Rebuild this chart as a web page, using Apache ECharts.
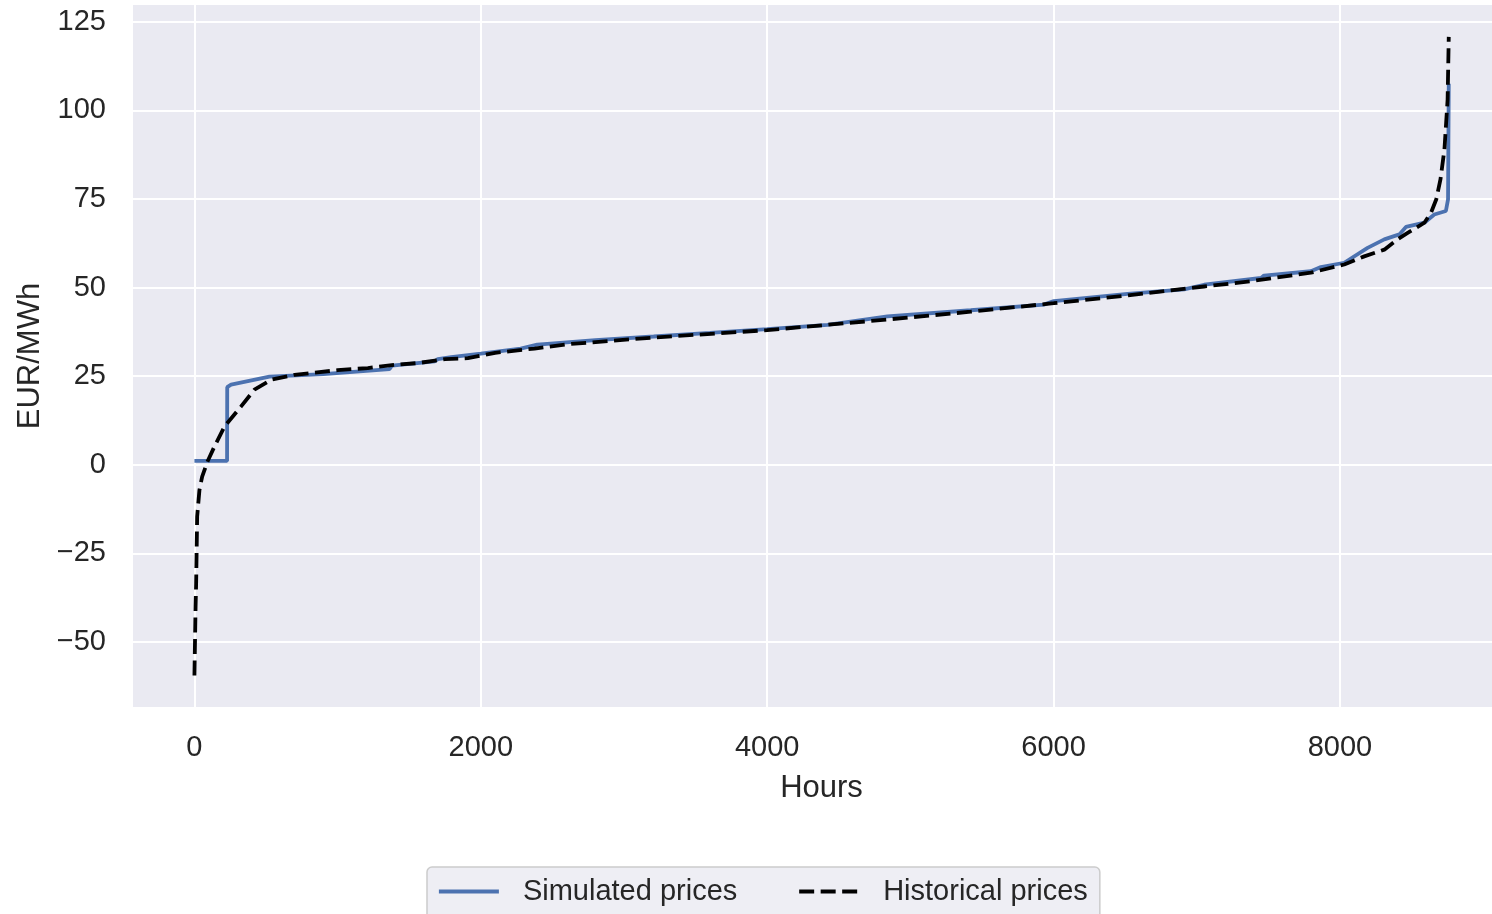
<!DOCTYPE html>
<html>
<head>
<meta charset="utf-8">
<script src="https://cdn.jsdelivr.net/npm/echarts@6/dist/echarts.min.js"></script>
<style>
html,body{margin:0;padding:0;background:#fff;}
#chart{width:1492px;height:914px;}
</style>
</head>
<body>
<div id="chart"></div>
<script>
// Data
const simHours  = [0, 228, 229, 256, 524, 900, 1362, 1380, 1677, 1700, 1793, 2000, 2278, 2394, 2487, 2800, 3207, 3600, 4001, 4421, 4840, 5422, 5932, 6002, 6517, 6912, 7052, 7449, 7470, 7797, 7867, 8030, 8193, 8310, 8415, 8461, 8590, 8659, 8740, 8755, 8760];
const simPrices = [1.1, 1.1, 21.9, 22.6, 24.9, 25.6, 27.0, 28.0, 29.2, 29.8, 30.4, 31.4, 32.8, 33.9, 34.2, 35.2, 36.2, 37.2, 38.3, 39.5, 41.9, 43.6, 45.2, 46.2, 48.2, 49.5, 50.8, 52.7, 53.4, 54.6, 55.8, 57.0, 61.2, 63.6, 65.0, 67.1, 68.3, 70.6, 71.6, 74.9, 107.5];

const histHours  = [0, 8, 12, 19, 35, 54, 93, 140, 210, 326, 419, 536, 699, 1000, 1211, 1400, 1560, 1750, 1910, 2100, 2375, 2600, 3207, 4001, 4840, 5422, 6002, 6517, 7052, 7379, 7797, 8030, 8170, 8310, 8403, 8473, 8590, 8636, 8673, 8702, 8730, 8752, 8760];
const histPrices = [-59.4, -40, -33.4, -14.6, -7.1, -3.3, 1.1, 5.2, 10.8, 16.5, 21.2, 24.0, 25.4, 26.7, 27.3, 28.2, 28.7, 29.8, 30.1, 31.6, 32.8, 34.0, 35.9, 38.0, 41.0, 43.2, 45.6, 47.8, 50.3, 51.8, 54.2, 56.5, 58.8, 60.7, 63.6, 65.4, 68.3, 71.1, 74.9, 80.5, 89, 103, 120.7];

const seriesNames = ['Simulated prices', 'Historical prices'];
const xName = 'Hours';
const yName = 'EUR/MWh';

const simData = simHours.map((h, i) => [h, simPrices[i]]);
const histData = histHours.map((h, i) => [h, histPrices[i]]);

const FONT = '"Liberation Sans", Arial, "DejaVu Sans", sans-serif';
const TXT = '#262626';

const chart = echarts.init(document.getElementById('chart'), null, {renderer: 'canvas'});
chart.setOption({
  animation: false,
  backgroundColor: '#ffffff',
  grid: {
    left: 133, right: 0, top: 5, bottom: 207,
    show: true, backgroundColor: '#EAEAF2', borderWidth: 0
  },
  xAxis: {
    type: 'value',
    min: -429, max: 9062,
    minInterval: 2000, maxInterval: 2000, splitNumber: 5,
    name: xName, nameLocation: 'middle', nameGap: 66,
    nameTextStyle: {fontFamily: FONT, fontSize: 31, color: TXT, padding: [0, 0, 0, 18]},
    axisLine: {show: false}, axisTick: {show: false},
    axisLabel: {fontFamily: FONT, fontSize: 29, color: TXT, margin: 26,
      showMinLabel: false, showMaxLabel: false,
      formatter: v => String(v)},
    splitLine: {show: true, showMinLine: false, showMaxLine: false,
      lineStyle: {color: '#ffffff', width: 2}}
  },
  yAxis: {
    type: 'value',
    min: -68.3, max: 129.7,
    minInterval: 25, maxInterval: 25, splitNumber: 8,
    name: yName, nameLocation: 'middle', nameGap: 85,
    nameTextStyle: {fontFamily: FONT, fontSize: 31, color: TXT},
    axisLine: {show: false}, axisTick: {show: false},
    axisLabel: {fontFamily: FONT, fontSize: 29, color: TXT, margin: 27,
      padding: [5, 0, 0, 0],
      showMinLabel: false, showMaxLabel: false,
      formatter: v => (v < 0 ? '\u2212' + Math.abs(v) : String(v))},
    splitLine: {show: true, showMinLine: false, showMaxLine: false,
      lineStyle: {color: '#ffffff', width: 2}}
  },
  legend: {
    left: 427, top: 867,
    orient: 'horizontal',
    padding: [10, 12, 30, 10],
    itemGap: 60, itemWidth: 60, itemHeight: 14,
    backgroundColor: '#EEEEF4',
    borderColor: '#CCCCCC', borderWidth: 1.5, borderRadius: 5,
    itemStyle: {opacity: 0},
    lineStyle: {width: 3.8},
    textStyle: {fontFamily: FONT, fontSize: 29, color: TXT, padding: [0, 0, 0, 19]},
    data: seriesNames
  },
  series: [
    {
      name: seriesNames[0], type: 'line', data: simData,
      symbol: 'none', showSymbol: false,
      lineStyle: {color: '#4C72B0', width: 3.8},
      itemStyle: {color: '#4C72B0'},
      z: 2
    },
    {
      name: seriesNames[1], type: 'line', data: histData,
      symbol: 'none', showSymbol: false,
      lineStyle: {color: '#000000', width: 3.8, type: [15, 6.5]},
      itemStyle: {color: '#000000'},
      z: 3
    }
  ]
});
</script>
</body>
</html>
